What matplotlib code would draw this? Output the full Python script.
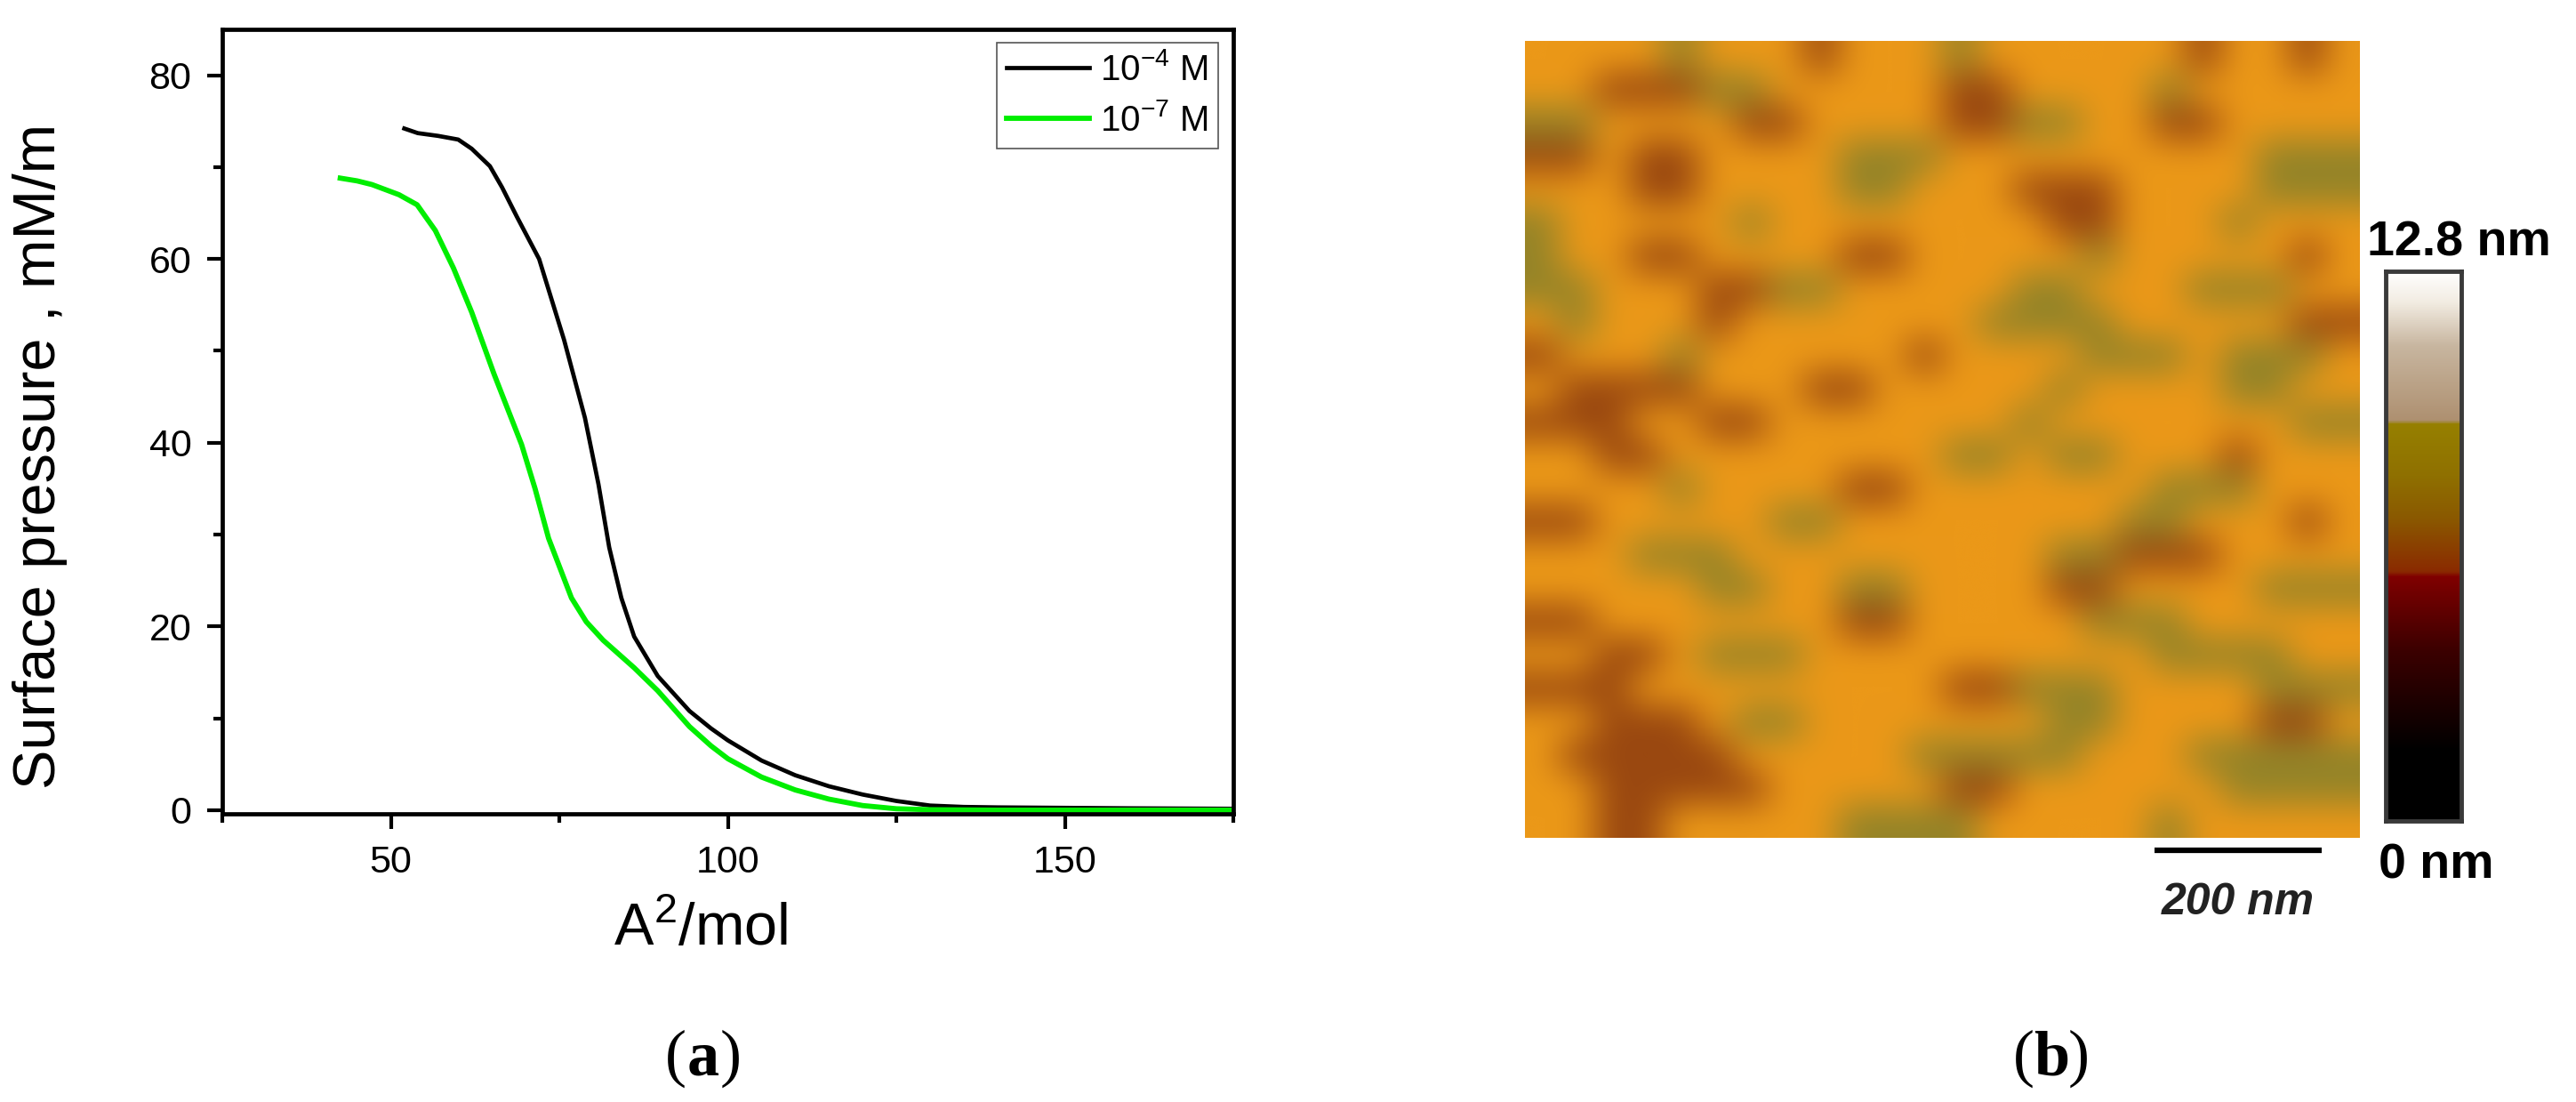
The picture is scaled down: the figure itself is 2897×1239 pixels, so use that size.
import numpy as np
import matplotlib.pyplot as plt
from matplotlib.colors import LinearSegmentedColormap, to_rgb
from matplotlib.ticker import MultipleLocator

plt.rcParams['font.family'] = ['Liberation Sans', 'DejaVu Sans']
plt.rcParams['mathtext.fontset'] = 'custom'
plt.rcParams['mathtext.rm'] = 'Liberation Sans'
plt.rcParams['mathtext.it'] = 'Liberation Sans:italic'
plt.rcParams['mathtext.bf'] = 'Liberation Sans:bold'
plt.rcParams['mathtext.default'] = 'regular'

# --- (a) surface pressure isotherms ---
black_x = [52, 54, 57, 60, 62, 64.7, 66.5, 68.7, 72, 75.7, 78.8, 80.8, 82.4, 84.2,
           86.1, 89.6, 94.3, 97.5, 100, 105, 110, 115, 120, 125, 130, 135, 140,
           150, 160, 175]
black_y = [74.2, 73.7, 73.4, 73.0, 72.0, 70.1, 67.8, 64.6, 60.0, 51.2, 42.7, 35.5,
           28.6, 23.1, 18.9, 14.6, 10.8, 8.9, 7.6, 5.4, 3.8, 2.6, 1.7, 1.0, 0.5,
           0.35, 0.3, 0.25, 0.2, 0.15]

green_x = [42.5, 45, 47.2, 51.2, 53.9, 56.6, 59.3, 62, 65.3, 69.4, 71.4, 73.4, 76.8,
           79, 81.5, 86.1, 89.6, 94.3, 97.5, 100, 105, 110, 115, 120, 125, 130,
           140, 150, 175]
green_y = [68.8, 68.5, 68.1, 67.0, 65.9, 63.1, 59.0, 54.2, 47.5, 39.8, 35.0, 29.6,
           23.1, 20.5, 18.5, 15.5, 13.0, 9.1, 7.0, 5.6, 3.6, 2.2, 1.2, 0.5, 0.15,
           0.05, 0.0, 0.0, 0.0]

series_labels = ['10$^{-4}$ M', '10$^{-7}$ M']
y_ticks = [0, 20, 40, 60, 80]
x_ticks = [50, 100, 150]

# --- (b) AFM height map, coarse patches ---
# b = dark brown streak, o = olive patch, . = orange speckle
afm_rows = [
    "....o...b...o......b..b.",
    "..bbboo.....bb....o.....",
    "oo....bb....bboo..bb....",
    "bb.bb....ooo.........ooo",
    "...bb....oo...bbb....ooo",
    "o.....o........bb...o...",
    "o..bb....bb.....o.....b.",
    "oo...bboo.....oo...ooo..",
    ".o...b.......oooo.....bb",
    "b...o......b....ooo.ooo.",
    ".bbbb...bb.....o....oo..",
    "bbb..bb.......o.......oo",
    "..bb........oo.oo...b...",
    "....o....bb.......ooo...",
    "bb.....oo........oo...b.",
    "...ooo.........oobbb....",
    ".....oo..oo....bb....ooo",
    "bb.......bb.....ooo.....",
    "..bb.ooo..........oooo..",
    "bbb.........bbooo....ooo",
    "..bbb.oo.......oo....bb.",
    ".bbbbb.....ooooo...ooooo",
    "..bbbbb.....bb......oooo",
    "..bb.....oooo.....o.....",
]
afm_palette = {'b': '#9a4810', 'o': '#948428', '.': '#eb9818'}
scan_size_nm = 1000
scale_bar_nm = 200
z_max_nm = 12.8

cbar_stops = [(0.0, '#000000'), (0.127, '#000000'), (0.31, '#3c0000'),
              (0.444, '#800000'), (0.452, '#8a2a00'), (0.548, '#8a5800'),
              (0.627, '#8f7000'), (0.722, '#968000'), (0.728, '#ae9070'),
              (0.865, '#c8b6a0'), (0.944, '#f2ece2'), (1.0, '#ffffff')]

fig = plt.figure(figsize=(28.97, 12.39), dpi=100)

ax = fig.add_axes([0.0863, 0.2615, 0.3925, 0.7119])
ax.plot(black_x, black_y, color='black', lw=3.4, label=series_labels[0])
ax.plot(green_x, green_y, color='#00ee00', lw=4.2, label=series_labels[1])
ax.set_xlim(25, 175)
ax.set_ylim(-0.4, 85)
ax.set_xticks(x_ticks)
ax.set_yticks(y_ticks)
ax.xaxis.set_minor_locator(MultipleLocator(25))
ax.yaxis.set_minor_locator(MultipleLocator(10))
ax.tick_params(which='major', direction='out', length=12, width=3.0,
               labelsize=31, pad=13)
ax.tick_params(which='minor', direction='out', length=7, width=3.0)
for s in ax.spines.values():
    s.set_linewidth(3.4)

ax.set_xlabel('A$^2$/mol', fontsize=48)
ax.set_ylabel('Surface pressure , mM/m', fontsize=48)
ax.xaxis.set_label_coords(0.473, -0.113)
ax.yaxis.set_label_coords(-0.153, 0.456)

leg = ax.legend(loc='upper right', bbox_to_anchor=(0.985, 0.983), borderaxespad=0,
                fontsize=29, fancybox=False, framealpha=1, edgecolor='#555555',
                handlelength=2.3, handletextpad=0.3, borderpad=0.28,
                labelspacing=0.45)
leg.get_frame().set_linewidth(1.2)

# AFM image
afm = fig.add_axes([0.592, 0.2397, 0.3238, 0.7232])
rgb = np.array([[to_rgb(afm_palette[c]) for c in row] for row in afm_rows])
afm.imshow(rgb, interpolation='bicubic', aspect='auto',
           extent=[0, scan_size_nm, 0, scan_size_nm])
afm.set_xlim(0, scan_size_nm)
afm.set_ylim(0, scan_size_nm)
afm.axis('off')
afm.plot([955 - scale_bar_nm, 955], [-16, -16], color='black', lw=4.5,
         solid_capstyle='butt', clip_on=False)

# colour scale bar
cmap = LinearSegmentedColormap.from_list('afm', cbar_stops)
cax = fig.add_axes([0.9261, 0.2550, 0.0293, 0.4988])
cax.imshow(np.linspace(0, z_max_nm, 256).reshape(-1, 1), cmap=cmap, aspect='auto',
           origin='lower', vmin=0, vmax=z_max_nm)
cax.set_xticks([])
cax.set_yticks([])
for s in cax.spines.values():
    s.set_linewidth(3.5)
    s.set_edgecolor('#3a3a3a')

fig.text(0.9189, 0.7676, '12.8 nm', fontsize=40, fontweight='bold',
         ha='left', va='baseline')
fig.text(0.9234, 0.2026, '0 nm', fontsize=40, fontweight='bold',
         ha='left', va='baseline')
fig.text(0.8689, 0.170, '200 nm', fontsize=36, fontweight='bold',
         fontstyle='italic', ha='center', va='baseline', color='#222222')

# panel captions
for x0, letter in [(0.2730, 'a'), (0.7963, 'b')]:
    fig.text(x0, 0.025, letter, fontfamily='Liberation Serif', fontweight='bold',
             fontsize=52, ha='center', va='baseline')
    fig.text(x0 - 0.0066, 0.025, '(', fontfamily='Liberation Serif',
             fontsize=52, ha='right', va='baseline')
    fig.text(x0 + 0.0066, 0.025, ')', fontfamily='Liberation Serif',
             fontsize=52, ha='left', va='baseline')

plt.savefig('out.png', dpi=100)
